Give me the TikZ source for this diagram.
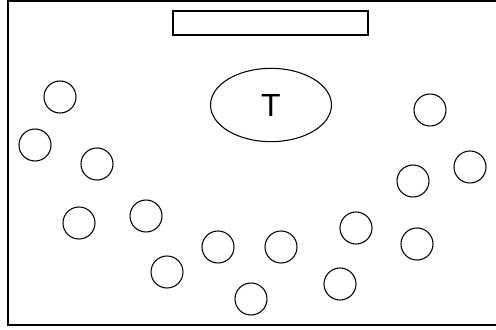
\documentclass[tikz,border=0pt]{standalone}
\usepackage{fontspec}
\setmainfont{Liberation Sans}
\usetikzlibrary{shapes.geometric}
\begin{document}
\begin{tikzpicture}[x=0.75pt,y=-0.75pt,
  seat/.style={circle,draw,line width=0.8pt,minimum size=24pt,inner sep=0pt},
  table/.style={ellipse,draw,line width=0.8pt,minimum width=90.75pt,minimum height=55pt,inner sep=0pt,font=\fontsize{24pt}{24pt}\selectfont},
  board/.style={rectangle,draw,line width=0.8pt,minimum width=146.25pt,minimum height=18pt,inner sep=0pt},
  frame/.style={draw,line width=1.1pt}]
\useasboundingbox (0,0) rectangle (496,329);
\draw[frame] (8,1) coordinate (f1) rectangle (510,325) coordinate (f2);
\node[board] (bar) at (270.5,23) {};
\node[table] (T) at (271,105) {T};
\node[seat] (c1) at (60,97) {};
\node[seat] (c2) at (35,145) {};
\node[seat] (c3) at (97,164) {};
\node[seat] (c4) at (79,223) {};
\node[seat] (c5) at (146,216) {};
\node[seat] (c6) at (167,272) {};
\node[seat] (c7) at (218,247) {};
\node[seat] (c8) at (251,299) {};
\node[seat] (c9) at (281,247) {};
\node[seat] (c10) at (340,284) {};
\node[seat] (c11) at (356,228) {};
\node[seat] (c12) at (417,244) {};
\node[seat] (c13) at (413,181) {};
\node[seat] (c14) at (470,167) {};
\node[seat] (c15) at (430,110) {};
\end{tikzpicture}
\end{document}
